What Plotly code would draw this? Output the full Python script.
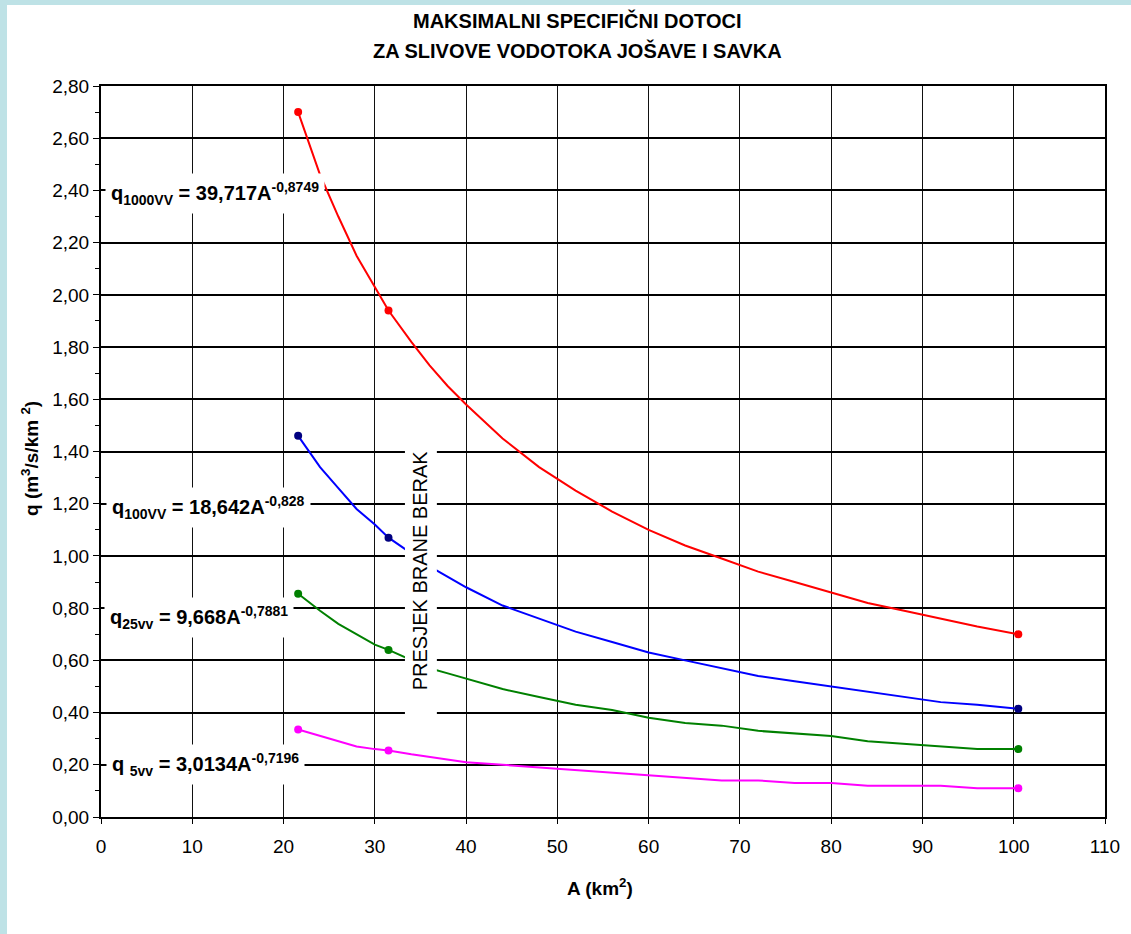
import plotly.graph_objects as go

# ---- data ----
A = [21.6, 24, 26, 28, 30, 31.5, 34, 36, 38, 40, 44, 48, 52, 56, 60, 64, 68, 72, 76, 80, 84, 88, 92, 96, 100.5]
q1000 = [2.70, 2.46, 2.30, 2.15, 2.03, 1.94, 1.82, 1.73, 1.65, 1.58, 1.45, 1.34, 1.25, 1.17, 1.10, 1.04, 0.99, 0.94, 0.90, 0.86, 0.82, 0.79, 0.76, 0.73, 0.70]
q100 = [1.46, 1.34, 1.26, 1.18, 1.12, 1.07, 1.01, 0.96, 0.92, 0.88, 0.81, 0.76, 0.71, 0.67, 0.63, 0.60, 0.57, 0.54, 0.52, 0.50, 0.48, 0.46, 0.44, 0.43, 0.415]
q25 = [0.855, 0.79, 0.74, 0.70, 0.66, 0.64, 0.60, 0.57, 0.55, 0.53, 0.49, 0.46, 0.43, 0.41, 0.38, 0.36, 0.35, 0.33, 0.32, 0.31, 0.29, 0.28, 0.27, 0.26, 0.26]
q5 = [0.335, 0.31, 0.29, 0.27, 0.26, 0.255, 0.24, 0.23, 0.22, 0.21, 0.20, 0.19, 0.18, 0.17, 0.16, 0.15, 0.14, 0.14, 0.13, 0.13, 0.12, 0.12, 0.12, 0.11, 0.11]

A_pts = [21.6, 31.5, 100.5]
q1000_pts = [2.70, 1.94, 0.70]
q100_pts = [1.46, 1.07, 0.415]
q25_pts = [0.855, 0.64, 0.26]
q5_pts = [0.335, 0.255, 0.11]

x_ticks = [0, 10, 20, 30, 40, 50, 60, 70, 80, 90, 100, 110]
y_ticks = [0.0, 0.2, 0.4, 0.6, 0.8, 1.0, 1.2, 1.4, 1.6, 1.8, 2.0, 2.2, 2.4, 2.6, 2.8]
y_ticktext = ["0,00", "0,20", "0,40", "0,60", "0,80", "1,00", "1,20", "1,40", "1,60", "1,80",
              "2,00", "2,20", "2,40", "2,60", "2,80"]

title1 = "MAKSIMALNI SPECIFIČNI DOTOCI"
title2 = "ZA SLIVOVE VODOTOKA JOŠAVE I SAVKA"
eq_texts = [
    "q<sub>1000VV</sub> = 39,717A<sup>-0,8749</sup>",
    "q<sub>100VV</sub> = 18,642A<sup>-0,828</sup>",
    "q<sub>25vv</sub> = 9,668A<sup>-0,7881</sup>",
    "q <sub>5vv</sub> = 3,0134A<sup>-0,7196</sup>",
]
eq_pos = [(0.45, 2.39), (0.5, 1.185), (0.3, 0.765), (0.5, 0.20)]

FONT = "Liberation Sans, Arial, sans-serif"

series = [
    (q1000, q1000_pts, "#FF0000", "#FF0000"),
    (q100, q100_pts, "#0000FF", "#000080"),
    (q25, q25_pts, "#008000", "#008000"),
    (q5, q5_pts, "#FF00FF", "#FF00FF"),
]

fig = go.Figure()
for vals, pts, lc, mc in series:
    fig.add_trace(go.Scatter(x=A, y=vals, mode="lines", line=dict(color=lc, width=2),
                             showlegend=False, hoverinfo="skip"))
    fig.add_trace(go.Scatter(x=A_pts, y=pts, mode="markers",
                             marker=dict(color=mc, size=8), showlegend=False))

W, H = 1131, 934
ml, mr, mt, mb = 101, 26, 86, 117
pw, ph = W - ml - mr, H - mt - mb


def px(xp):
    return (xp - ml) / pw


def py(yp):
    return (H - mb - yp) / ph


shapes = [
    # white page over light-blue border
    dict(type="rect", xref="paper", yref="paper", x0=px(7), x1=px(W + 20),
         y0=py(H + 20), y1=py(5), fillcolor="white", line=dict(width=0), layer="below"),
    # white box behind vertical label
    dict(type="rect", xref="x", yref="y", x0=33.3, x1=36.8, y0=0.37, y1=1.43,
         fillcolor="white", line=dict(width=0), layer="above"),
]

annotations = [
    dict(text="<b>%s</b>" % title1, xref="paper", yref="paper", x=px(577), y=py(21),
         showarrow=False, font=dict(size=20, color="black", family=FONT), xanchor="center", yanchor="middle"),
    dict(text="<b>%s</b>" % title2, xref="paper", yref="paper", x=px(577), y=py(50),
         showarrow=False, font=dict(size=20, color="black", family=FONT), xanchor="center", yanchor="middle"),
    dict(text="<b>q (m<sup>3</sup>/s/km <sup>2</sup>)</b>", xref="paper", yref="paper", x=px(30), y=py(459),
         textangle=-90, showarrow=False, font=dict(size=19, color="black", family=FONT),
         xanchor="center", yanchor="middle"),
    dict(text="<b>A (km<sup>2</sup>)</b>", xref="paper", yref="paper", x=px(600), y=py(887),
         showarrow=False, font=dict(size=19, color="black", family=FONT), xanchor="center", yanchor="middle"),
    dict(text="PRESJEK BRANE BERAK", xref="x", yref="y", x=34.95, y=0.945, textangle=-90,
         showarrow=False, font=dict(size=20, color="black", family=FONT), xanchor="center", yanchor="middle"),
]
for t, (xa, ya) in zip(eq_texts, eq_pos):
    annotations.append(dict(text="<b>%s</b>" % t, xref="x", yref="y", x=xa, y=ya, xanchor="left",
                            yanchor="middle", showarrow=False, bgcolor="white", borderpad=5,
                            font=dict(size=20, color="black", family=FONT)))

fig.update_layout(
    width=W, height=H,
    margin=dict(l=ml, r=mr, t=mt, b=mb, pad=0),
    paper_bgcolor="#BEE2E6",
    plot_bgcolor="white",
    font=dict(family=FONT, color="black", size=19),
    shapes=shapes,
    annotations=annotations,
    xaxis=dict(range=[0, 110], tickvals=x_ticks, ticktext=[str(v) for v in x_ticks],
               showgrid=True, gridcolor="#111111", gridwidth=1,
               showline=True, linecolor="black", linewidth=2, mirror=True,
               ticks="outside", ticklen=5, tickcolor="black", tickwidth=1,
               ticklabelstandoff=6, zeroline=False,
               tickfont=dict(size=19, family=FONT, color="black")),
    yaxis=dict(range=[0, 2.8], tickvals=y_ticks, ticktext=y_ticktext,
               showgrid=True, gridcolor="black", gridwidth=1.6,
               showline=True, linecolor="black", linewidth=2, mirror=True,
               ticks="outside", ticklen=6, tickcolor="black", tickwidth=1,
               ticklabelstandoff=0, zeroline=False,
               minor=dict(dtick=0.1, tick0=0, ticks="outside", ticklen=4, tickcolor="black", showgrid=False),
               tickfont=dict(size=19, family=FONT, color="black")),
)

fig.write_html("out.html", config={"displayModeBar": False},
               post_script="document.body.style.margin='0';")
